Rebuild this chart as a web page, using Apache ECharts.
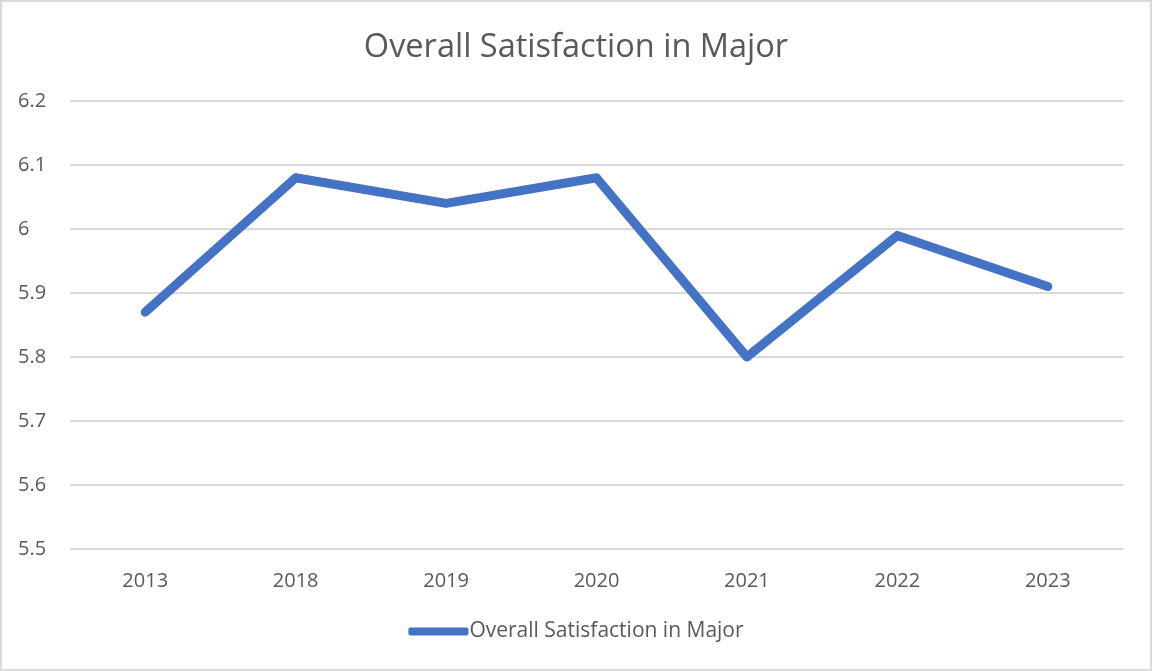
<!DOCTYPE html>
<html>
<head>
<meta charset="utf-8">
<script src="https://cdn.jsdelivr.net/npm/echarts@6/dist/echarts.min.js"></script>
<style>
  html, body { margin: 0; padding: 0; background: #fff; }
  #chart { width: 1152px; height: 671px; box-sizing: border-box; border: 2px solid #d9d9d9; }
</style>
</head>
<body>
<div id="chart"></div>
<script>
const years = ['2013', '2018', '2019', '2020', '2021', '2022', '2023']
const satisfaction = [5.87, 6.08, 6.04, 6.08, 5.80, 5.99, 5.91]
const seriesName = 'Overall Satisfaction in Major'

const chart = echarts.init(document.getElementById('chart'))

chart.setOption({
  animation: false,
  textStyle: { fontFamily: 'Open Sans', color: '#595959' },
  title: {
    text: seriesName,
    left: 'center',
    top: 24,
    textStyle: { fontSize: 32.5, fontWeight: 'normal', color: '#595959', fontFamily: 'Open Sans' }
  },
  legend: {
    bottom: 22,
    left: 'center',
    itemWidth: 60,
    itemHeight: 8,
    itemGap: 0,
    icon: 'roundRect',
    textStyle: { fontSize: 21, color: '#595959', padding: [0, 0, 0, -4] },
    data: [seriesName]
  },
  grid: { left: 68, right: 27, top: 99, bottom: 120 },
  xAxis: {
    type: 'category',
    data: years,
    boundaryGap: true,
    axisLine: { show: false },
    axisTick: { show: false },
    axisLabel: { fontSize: 20, color: '#595959', margin: 22 }
  },
  yAxis: {
    type: 'value',
    min: 5.5,
    max: 6.2,
    interval: 0.1,
    axisLine: { show: false },
    axisTick: { show: false },
    axisLabel: {
      fontSize: 20,
      color: '#595959',
      margin: 52,
      align: 'left',
      formatter: v => String(Math.round(v * 10) / 10)
    },
    splitLine: { lineStyle: { color: '#d9d9d9', width: 2 } }
  },
  series: [
    {
      name: seriesName,
      type: 'line',
      data: satisfaction,
      symbol: 'none',
      lineStyle: { width: 9, color: '#4472c4', cap: 'round', join: 'round' },
      itemStyle: { color: '#4472c4' }
    }
  ]
})
</script>
</body>
</html>
